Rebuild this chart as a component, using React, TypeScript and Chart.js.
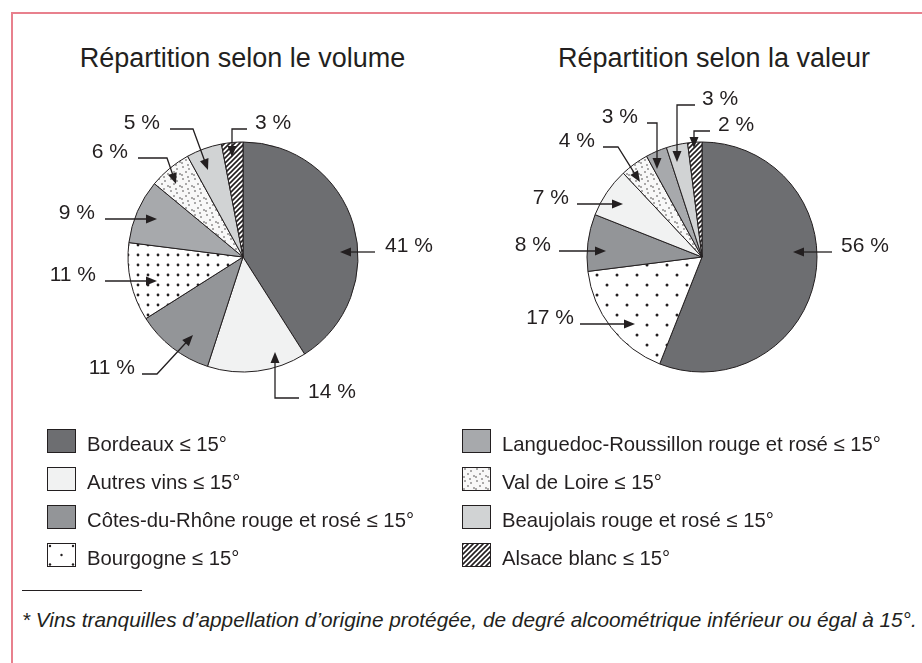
import { useEffect, useRef } from "react";
import { Chart, registerables } from "chart.js";

Chart.register(...registerables);

const FONT = "'Liberation Sans', Arial, Helvetica, sans-serif";
const INK = "#231f20";

// ---- data ----
const categories = [
  "Bordeaux ≤ 15°",
  "Autres vins ≤ 15°",
  "Côtes-du-Rhône rouge et rosé ≤ 15°",
  "Bourgogne ≤ 15°",
  "Languedoc-Roussillon rouge et rosé ≤ 15°",
  "Val de Loire ≤ 15°",
  "Beaujolais rouge et rosé ≤ 15°",
  "Alsace blanc ≤ 15°",
];

const titles = ["Répartition selon le volume", "Répartition selon la valeur"];

// slice order (category index) and values, clockwise from 12 o'clock
const volumeCategories = [0, 1, 2, 3, 4, 5, 6, 7];
const volumeValues = [41, 14, 11, 11, 9, 6, 5, 3];

const valueCategories = [0, 3, 2, 1, 5, 4, 6, 7];
const valueValues = [56, 17, 8, 7, 4, 3, 3, 2];

const footnote =
  "* Vins tranquilles d’appellation d’origine protégée, de degré alcoométrique inférieur ou égal à 15°.";

// ---- callout layout (offsets relative to pie centre, px) ----
type Callout = { pts: number[][]; label: number[]; align: "left" | "right" };
// pts: from leader start to arrow tip (last point = tip)
const volumeCallouts: Callout[] = [
  { pts: [[132, -5], [97, -5]], label: [142, -5], align: "left" },
  { pts: [[56, 141], [32, 141], [32, 95]], label: [65, 141], align: "left" },
  { pts: [[-101, 117], [-86, 117], [-50, 78]], label: [-108, 117], align: "right" },
  { pts: [[-138, 24], [-86, 24]], label: [-147, 24], align: "right" },
  { pts: [[-138, -38], [-86, -38]], label: [-148, -38], align: "right" },
  { pts: [[-105, -99], [-76, -99], [-67, -73]], label: [-115, -99], align: "right" },
  { pts: [[-73, -128], [-50, -128], [-35, -87]], label: [-83, -128], align: "right" },
  { pts: [[4, -128], [-11, -128], [-11, -100]], label: [12, -128], align: "left" },
];
const valueCallouts: Callout[] = [
  { pts: [[130, -5], [91, -5]], label: [139, -5], align: "left" },
  { pts: [[-122, 67], [-67, 67]], label: [-128, 67], align: "right" },
  { pts: [[-143, -6], [-96, -6]], label: [-151, -6], align: "right" },
  { pts: [[-125, -53], [-79, -53]], label: [-133, -53], align: "right" },
  { pts: [[-99, -110], [-84, -110], [-62, -75]], label: [-107, -110], align: "right" },
  { pts: [[-55, -134], [-45, -134], [-45, -88]], label: [-64, -134], align: "right" },
  { pts: [[-7, -152], [-25, -152], [-25, -95]], label: [0, -152], align: "left" },
  { pts: [[8, -126], [-8, -126], [-8, -109]], label: [16, -126], align: "left" },
];

// ---- fills ----
function makeTile(w: number, h: number, draw: (g: CanvasRenderingContext2D) => void) {
  const c = document.createElement("canvas");
  c.width = w;
  c.height = h;
  const g = c.getContext("2d") as CanvasRenderingContext2D;
  draw(g);
  return c;
}

function dotTile(w: number, h: number, bg: string, r: number, dots: number[][]) {
  return makeTile(w, h, (g) => {
    g.fillStyle = bg;
    g.fillRect(0, 0, w, h);
    g.fillStyle = INK;
    for (const [x, y] of dots) {
      g.beginPath();
      g.arc(x, y, r, 0, Math.PI * 2);
      g.fill();
    }
  });
}

// dense grid (left pie), staggered grid (right pie)
const bigDotsDense = () => dotTile(10, 10, "#ffffff", 1.4, [[5, 5]]);
const bigDotsSparse = () => dotTile(20, 20, "#ffffff", 1.5, [[5, 5], [15, 15]]);
const bigDotsSwatch = () =>
  dotTile(27, 22, "#ffffff", 1.2, [[2, 2], [25, 2], [13.5, 11], [2, 20.5], [25, 20.5]]);
const fineDots = () =>
  dotTile(12, 12, "#f8f8f8", 0.7, [[2, 1], [8, 3], [5, 6], [11, 8], [1, 9], [7, 11]]);

function hatch() {
  return makeTile(5, 5, (g) => {
    g.fillStyle = "#ffffff";
    g.fillRect(0, 0, 5, 5);
    g.strokeStyle = INK;
    g.lineWidth = 1.6;
    g.beginPath();
    for (const o of [-5, 0, 5]) {
      g.moveTo(o - 1, 6);
      g.lineTo(o + 6, -1);
    }
    g.stroke();
  });
}

const solidColors: Record<number, string> = {
  0: "#6d6e71",
  1: "#f1f2f2",
  2: "#939598",
  4: "#a7a9ac",
  6: "#d1d3d4",
};

function tileFor(i: number, variant: "dense" | "sparse" | "swatch"): HTMLCanvasElement | null {
  if (i === 3) {
    if (variant === "dense") return bigDotsDense();
    if (variant === "sparse") return bigDotsSparse();
    return bigDotsSwatch();
  }
  if (i === 5) return fineDots();
  if (i === 7) return hatch();
  return null;
}

function fillFor(
  i: number,
  ctx: CanvasRenderingContext2D,
  variant: "dense" | "sparse"
): string | CanvasPattern {
  const t = tileFor(i, variant);
  if (t) return ctx.createPattern(t, "repeat") as CanvasPattern;
  return solidColors[i];
}

// ---- callout plugin ----
const calloutPlugin = {
  id: "callouts",
  afterDatasetsDraw(chart: any, _args: any, opts: any) {
    const items: Callout[] = opts.items || [];
    const values: number[] = chart.data.datasets[0].data;
    const meta = chart.getDatasetMeta(0);
    const ctx = chart.ctx as CanvasRenderingContext2D;
    ctx.save();
    ctx.strokeStyle = INK;
    ctx.fillStyle = INK;
    ctx.lineWidth = 1.3;
    ctx.font = `21px ${FONT}`;
    ctx.textBaseline = "alphabetic";
    items.forEach((it, i) => {
      const arc = meta.data[i];
      if (!arc) return;
      const cx = arc.x;
      const cy = arc.y;
      const pts = it.pts.map(([dx, dy]) => [cx + dx, cy + dy]);
      const tip = pts[pts.length - 1];
      const prev = pts[pts.length - 2];
      const ang = Math.atan2(tip[1] - prev[1], tip[0] - prev[0]);
      const L = 11;
      const W = 4.5;
      ctx.beginPath();
      ctx.moveTo(pts[0][0], pts[0][1]);
      for (let k = 1; k < pts.length - 1; k++) ctx.lineTo(pts[k][0], pts[k][1]);
      ctx.lineTo(tip[0] - Math.cos(ang) * L * 0.8, tip[1] - Math.sin(ang) * L * 0.8);
      ctx.stroke();
      ctx.beginPath();
      ctx.moveTo(tip[0], tip[1]);
      ctx.lineTo(
        tip[0] - Math.cos(ang) * L - Math.sin(ang) * W,
        tip[1] - Math.sin(ang) * L + Math.cos(ang) * W
      );
      ctx.lineTo(
        tip[0] - Math.cos(ang) * L + Math.sin(ang) * W,
        tip[1] - Math.sin(ang) * L - Math.cos(ang) * W
      );
      ctx.closePath();
      ctx.fill();
      ctx.textAlign = it.align;
      ctx.fillText(`${values[i]} %`, cx + it.label[0], cy + it.label[1]);
    });
    ctx.restore();
  },
};

function PieChart({
  cats,
  values,
  callouts,
  left,
  variant,
}: {
  cats: number[];
  values: number[];
  callouts: Callout[];
  left: number;
  variant: "dense" | "sparse";
}) {
  const ref = useRef<HTMLCanvasElement | null>(null);
  useEffect(() => {
    const canvas = ref.current;
    if (!canvas) return;
    const ctx = canvas.getContext("2d") as CanvasRenderingContext2D;
    const chart = new Chart(canvas, {
      type: "pie",
      data: {
        labels: cats.map((c) => categories[c]),
        datasets: [
          {
            data: values,
            backgroundColor: cats.map((c) => fillFor(c, ctx, variant)),
            borderColor: INK,
            borderWidth: 1,
          },
        ],
      },
      options: {
        responsive: false,
        animation: false,
        devicePixelRatio: 1,
        events: [],
        radius: 115,
        layout: { padding: 0 },
        plugins: {
          legend: { display: false },
          tooltip: { enabled: false },
          callouts: { items: callouts },
        } as any,
      } as any,
      plugins: [calloutPlugin],
    });
    return () => chart.destroy();
  }, []);
  return (
    <canvas
      ref={ref}
      width={460}
      height={374}
      style={{ position: "absolute", left, top: 70, width: 460, height: 374 }}
    />
  );
}

function Swatch({ cat }: { cat: number }) {
  const t = tileFor(cat, "swatch");
  const style: any = {
    position: "absolute",
    left: 0,
    top: 0,
    width: 27,
    height: 22,
    border: `1px solid ${INK}`,
    boxSizing: "content-box",
  };
  if (t) style.backgroundImage = `url(${t.toDataURL()})`;
  else style.background = solidColors[cat];
  return <div style={style} />;
}

export default function App() {
  const legendCols = [
    [0, 1, 2, 3],
    [4, 5, 6, 7],
  ];
  const colLeft = [47, 462];
  return (
    <div
      style={{
        position: "absolute",
        left: 0,
        top: 0,
        width: 922,
        height: 663,
        overflow: "hidden",
        background: "#ffffff",
        fontFamily: FONT,
        color: INK,
      }}
    >
      <div
        style={{
          position: "absolute",
          left: 11,
          top: 12,
          width: 2000,
          height: 2000,
          borderLeft: "2px solid #e8808d",
          borderTop: "2px solid #e8808d",
        }}
      />
      {titles.map((t, i) => (
        <div
          key={t}
          style={{
            position: "absolute",
            left: (i === 0 ? 242.5 : 714) - 250,
            top: 43,
            width: 500,
            textAlign: "center",
            fontSize: 27,
            lineHeight: "30px",
            whiteSpace: "nowrap",
          }}
        >
          {t}
        </div>
      ))}
      <PieChart
        cats={volumeCategories}
        values={volumeValues}
        callouts={volumeCallouts}
        left={13}
        variant="dense"
      />
      <PieChart
        cats={valueCategories}
        values={valueValues}
        callouts={valueCallouts}
        left={472}
        variant="sparse"
      />
      {legendCols.map((col, ci) =>
        col.map((cat, ri) => (
          <div
            key={cat}
            style={{
              position: "absolute",
              left: colLeft[ci],
              top: 429 + ri * 38,
              width: 440,
              height: 24,
            }}
          >
            <Swatch cat={cat} />
            <div
              style={{
                position: "absolute",
                left: 40,
                top: 4,
                fontSize: 20.3,
                lineHeight: "23px",
                whiteSpace: "nowrap",
              }}
            >
              {categories[cat]}
            </div>
          </div>
        ))
      )}
      <div
        style={{
          position: "absolute",
          left: 22,
          top: 590,
          width: 120,
          height: 1,
          background: INK,
        }}
      />
      <div
        style={{
          position: "absolute",
          left: 22,
          top: 608,
          fontSize: 20.8,
          lineHeight: "24px",
          fontStyle: "italic",
          whiteSpace: "nowrap",
        }}
      >
        {footnote}
      </div>
    </div>
  );
}
